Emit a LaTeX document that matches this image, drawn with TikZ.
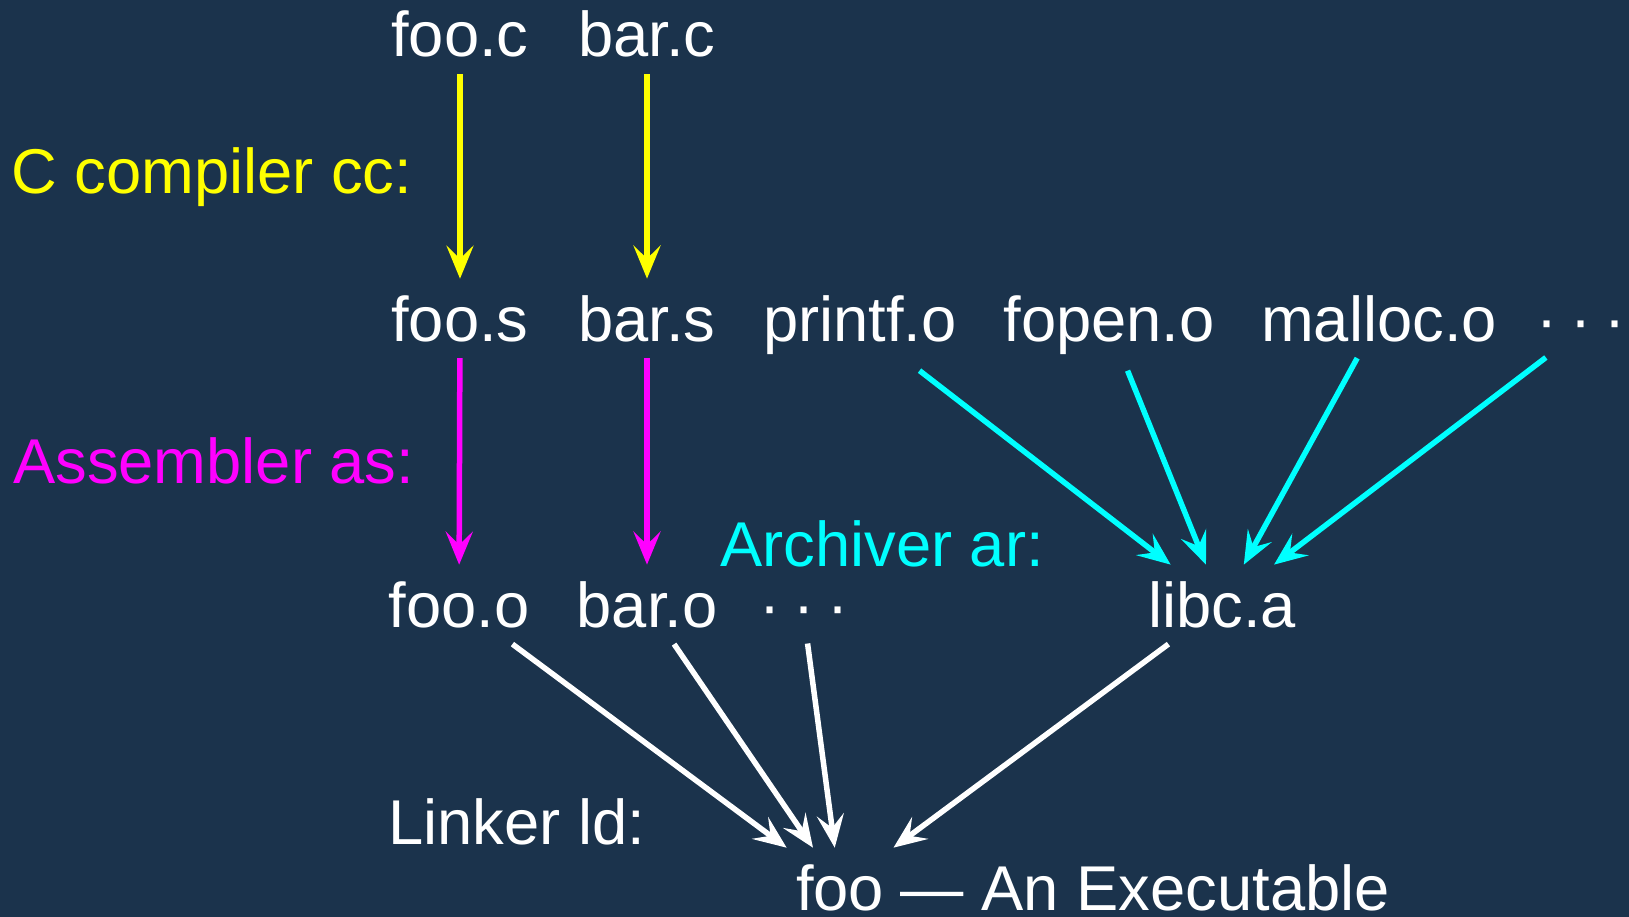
\documentclass[tikz,border=0pt]{standalone}
\usepackage{fontspec}
\setmainfont{Liberation Sans}
\usetikzlibrary{arrows.meta}
\definecolor{bgblue}{RGB}{27,51,76}
\definecolor{ccyellow}{RGB}{255,255,0}
\definecolor{asmagenta}{RGB}{255,0,255}
\definecolor{arcyan}{RGB}{0,255,255}
\tikzset{
  file/.style={text=white, inner sep=0pt, outer sep=16.5pt, anchor=base},
  tool/.style={inner sep=0pt, anchor=base west},
  flow/.style={line width=5.5pt, -{Stealth[length=33pt, width=27pt, inset=13pt]}},
}
\newcommand{\moredots}{\textperiodcentered\kern13pt\textperiodcentered\kern13pt\textperiodcentered}
\begin{document}
\begin{tikzpicture}[x=1pt, y=-1pt, font=\fontsize{63.3}{72}\selectfont]
  \fill[bgblue] (0,0) rectangle (1629,917);
  \useasboundingbox (0,0) rectangle (1629,917);

  % sources
  \node[file] (fooc) at (460,57) {foo.c};
  \node[file] (barc) at (647,57) {bar.c};

  % assembly and library objects
  \node[file] (foos)   at (460,341)  {foo.s};
  \node[file] (bars)   at (647,341)  {bar.s};
  \node[file] (printf) at (860,341)  {printf.o};
  \node[file] (fopen)  at (1109,341) {fopen.o};
  \node[file] (malloc) at (1379,341) {malloc.o};
  \node[file] (odots)  at (1581,341) {\moredots};

  % object files and the archive
  \node[file] (fooo) at (459,627)  {foo.o};
  \node[file] (baro) at (647,627)  {bar.o};
  \node[file] (ldots) at (804,627) {\moredots};
  \node[file] (libc) at (1222,627) {libc.a};

  % the executable
  \node[file] (exe) at (840,910) {foo};
  \node[inner sep=0pt, anchor=base west, text=white] (exetext) at (exe.base east) {— An Executable};

  % tool labels
  \node[tool, text=ccyellow]  (cc) at (11,194)  {C compiler cc:};
  \node[tool, text=asmagenta] (as) at (13,483)  {Assembler as:};
  \node[tool, text=arcyan]    (ar) at (720,566) {Archiver ar:};
  \node[tool, text=white]     (ld) at (388,844) {Linker ld:};

  % compiling
  \draw[flow, ccyellow] (fooc) -- (foos);
  \draw[flow, ccyellow] (barc) -- (bars);
  % assembling
  \draw[flow, asmagenta] (foos) -- (fooo);
  \draw[flow, asmagenta] (bars) -- (baro);
  % archiving
  \draw[flow, arcyan] (printf) -- (libc);
  \draw[flow, arcyan] (fopen) -- (libc);
  \draw[flow, arcyan] (malloc) -- (libc);
  \draw[flow, arcyan] (odots) -- (libc);
  % linking
  \draw[flow, white] (fooo) -- (exe);
  \draw[flow, white] (baro) -- (exe);
  \draw[flow, white] (ldots) -- (exe);
  \draw[flow, white] (libc) -- (exe);
\end{tikzpicture}
\end{document}
